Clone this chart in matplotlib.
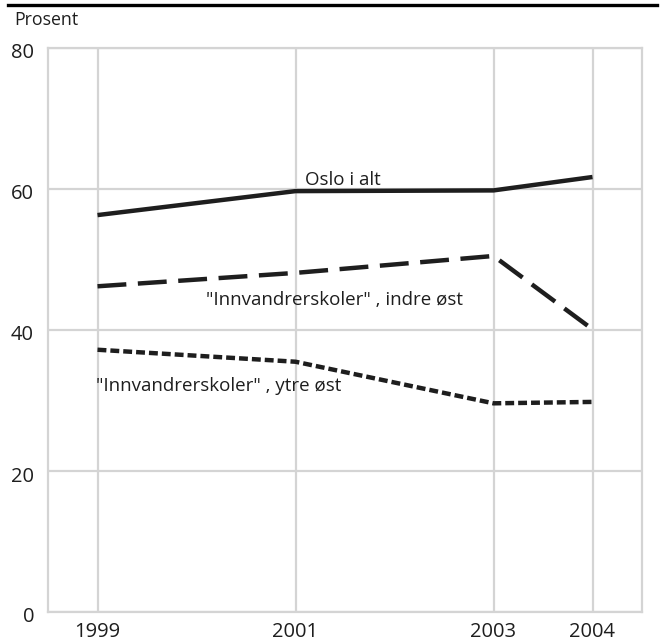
import numpy as np
import matplotlib.pyplot as plt
import matplotlib.transforms as mtrans
from matplotlib.lines import Line2D

plt.rcParams['font.family'] = ['Open Sans', 'DejaVu Sans']

# data
years = [1999, 2001, 2003, 2004]
oslo = [56.3, 59.7, 59.8, 61.7]
indre = [46.2, 48.1, 50.5, 40.1]
ytre = [37.2, 35.5, 29.6, 29.8]

grid_col = '#d4d4d4'
ink = '#1e1e1e'

fig = plt.figure(figsize=(6.61, 6.43), dpi=100)
ax = fig.add_axes([48/661, 1 - 612/643, (642-48)/661, (612-48)/643])

ax.plot(years, oslo, color=ink, lw=3.2, solid_capstyle='butt')
ax.plot(years, indre, color=ink, lw=3.2, dashes=(6.5, 2.6), dash_capstyle='butt')
ax.plot(years, ytre, color=ink, lw=3.2, dashes=(2.0, 0.9), dash_capstyle='butt')

ax.set_xlim(1998.5, 2004.5)
ax.set_ylim(0, 80)
ax.set_xticks(years)
ax.set_yticks([0, 20, 40, 60, 80])
ax.grid(True, color=grid_col, lw=1.6)
ax.set_axisbelow(True)
for s in ax.spines.values():
    s.set_color(grid_col)
    s.set_linewidth(1.6)
ax.tick_params(length=0, labelsize=14.5, colors=ink)
ax.tick_params(axis='x', pad=7)
ax.tick_params(axis='y', pad=10)
shift = mtrans.ScaledTranslation(0, -3/100, fig.dpi_scale_trans)
for lab in ax.get_yticklabels():
    lab.set_transform(lab.get_transform() + shift)

# series labels
ax.text(2001.1, 61.3, 'Oslo i alt', fontsize=13.5, color=ink, va='center')
ax.text(2000.1, 44.3, '"Innvandrerskoler" , indre øst', fontsize=13.5, color=ink, va='center')
ax.text(1998.98, 32.0, '"Innvandrerskoler" , ytre øst', fontsize=13.5, color=ink, va='center')

fig.text(14/661, 1 - 20/643, 'Prosent', fontsize=12.8, color=ink, va='center')
fig.add_artist(Line2D([8/661, 657/661], [1 - 5/643, 1 - 5/643], color='black', lw=2.4,
                      transform=fig.transFigure))

fig.savefig('out.png', dpi=100)
